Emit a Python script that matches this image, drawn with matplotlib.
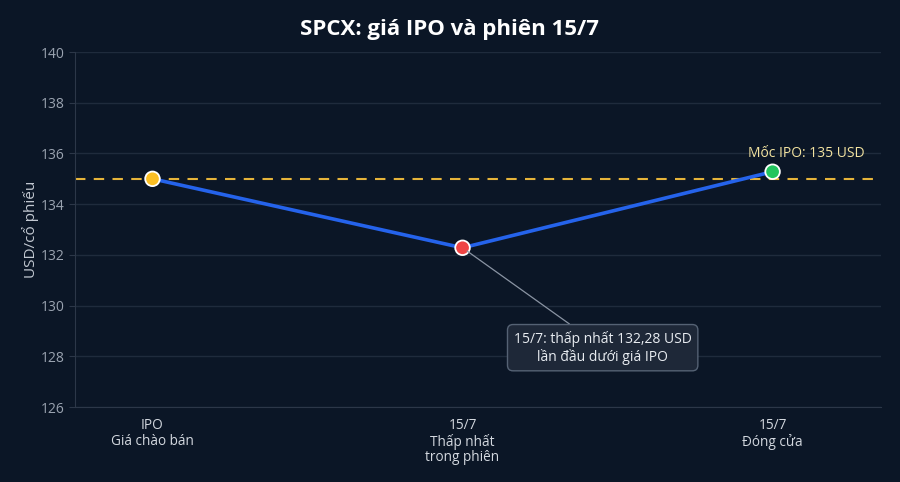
import matplotlib
matplotlib.use("Agg")
import matplotlib.pyplot as plt

# data
categories = ["IPO\nGiá chào bán", "15/7\nThấp nhất\ntrong phiên", "15/7\nĐóng cửa"]
prices = [135.0, 132.28, 135.28]
point_colors = ["#fbbf24", "#ef4444", "#22c55e"]
ipo_price = 135.0
y_ticks = [126, 128, 130, 132, 134, 136, 138, 140]

bg = "#0b1626"
plt.rcParams['font.family'] = ['Open Sans', 'Noto Sans', 'DejaVu Sans']

fig = plt.figure(figsize=(9, 4.82), dpi=100, facecolor=bg)
ax = fig.add_axes([0.0833, 0.1556, 0.8957, 0.7364], facecolor=bg)

x = list(range(len(categories)))
ax.axhline(ipo_price, color="#e6b43a", lw=1.5, ls=(0, (5, 4)), zorder=2)
ax.plot(x, prices, color="#2563eb", lw=2.6, zorder=3)
ax.scatter(x, prices, s=110, c=point_colors, edgecolors="white", linewidths=1.3, zorder=4)

ax.set_xlim(-0.25, 2.35)
ax.set_ylim(126, 140)
ax.set_yticks(y_ticks)
ax.set_xticks(x)
ax.set_xticklabels(categories, linespacing=1.05)
ax.grid(axis="y", color="#1f2b3c", lw=1)
ax.set_axisbelow(True)

for s in ["top", "right"]:
    ax.spines[s].set_visible(False)
for s in ["left", "bottom"]:
    ax.spines[s].set_color("#2c3748")
ax.tick_params(axis="y", colors="#2c3748", labelcolor="#9aa3b0", labelsize=10, length=4)
ax.tick_params(axis="x", length=0, labelcolor="#d3d8df", labelsize=9.8, pad=8)

ax.set_ylabel("USD/cổ phiếu", color="#c3c9d2", fontsize=11, labelpad=1)
fig.suptitle("SPCX: giá IPO và phiên 15/7", color="white", fontsize=16, fontweight="bold", y=0.96)

ax.annotate("Mốc IPO: 135 USD", xy=(2, ipo_price), xytext=(24, 18), textcoords="offset points",
            ha="center", va="center", color="#f3e3a0", fontsize=10)

ax.annotate("15/7: thấp nhất 132,28 USD\nlần đầu dưới giá IPO", xy=(1, prices[1]), xytext=(1.452, 128.34),
            ha="center", va="center", color="#e8ecf1", fontsize=10, linespacing=1.15,
            bbox=dict(boxstyle="round,pad=0.45,rounding_size=0.4", fc="#1e2838", ec="#556274", lw=1),
            arrowprops=dict(arrowstyle="-", color="#8a94a3", lw=0.9, shrinkA=0, shrinkB=4),
            zorder=5)

fig.savefig("out.png", dpi=100, facecolor=bg)
